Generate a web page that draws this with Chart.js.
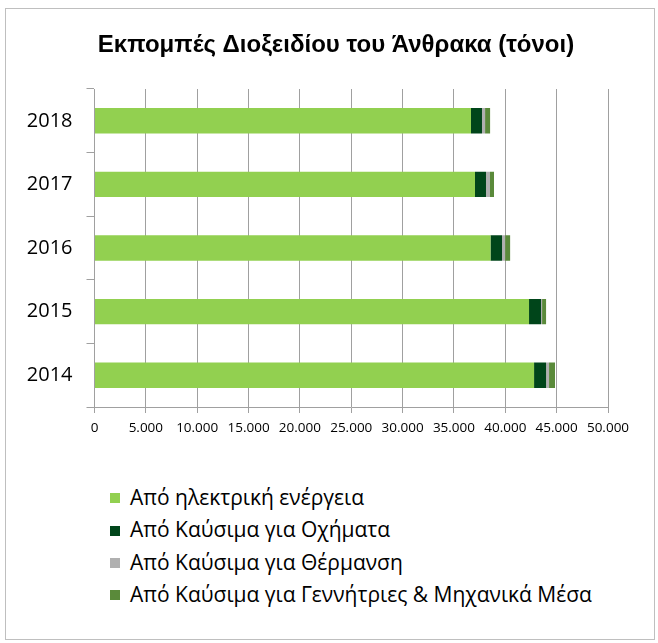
<!DOCTYPE html>
<html>
<head>
<meta charset="utf-8">
<script src="https://cdn.jsdelivr.net/npm/chart.js@4.4.0/dist/chart.umd.min.js"></script>
<style>
  body { margin: 0; background: #fff; }
  #frame { position: absolute; left: 5px; top: 8px; width: 650px; height: 632px; border: 1px solid #bfbfbf; box-sizing: border-box; }
  #wrap { position: absolute; left: 0; top: 0; width: 650px; height: 450px; }
  #legend { position: absolute; left: 104px; top: 472px; font-family: "Open Sans", sans-serif; font-size: 21px; color: #000; }
  .item { height: 32.3px; line-height: 32.3px; white-space: nowrap; }
  .box { display: inline-block; width: 10px; height: 10px; margin-right: 10px; vertical-align: middle; position: relative; top: -1px; }
</style>
</head>
<body>
<div id="frame">
  <div id="wrap"><canvas id="myChart"></canvas></div>
  <div id="legend"></div>
</div>
<script>
//DATA
const years = ["2014", "2015", "2016", "2017", "2018"];
const electricity = [42800, 42310, 38560, 37050, 36660];
const vehicles = [1170, 1170, 1120, 1070, 1070];
const heating = [290, 100, 300, 390, 300];
const generators = [580, 390, 490, 390, 490];

const seriesNames = [
    "Από ηλεκτρική ενέργεια",
    "Από Καύσιμα για Οχήματα",
    "Από Καύσιμα για Θέρμανση",
    "Από Καύσιμα για Γεννήτριες & Μηχανικά Μέσα"
];
const colors = ["#92d050", "#00451a", "#b0b0b0", "#5a8a3a"];
const xTicks = [0, 5000, 10000, 15000, 20000, 25000, 30000, 35000, 40000, 45000, 50000];

const allValues = [electricity, vehicles, heating, generators];

const data1 = {
    labels: years,
    datasets: allValues.map((vals, i) => ({
        label: seriesNames[i],
        data: vals,
        backgroundColor: colors[i],
        borderWidth: 0,
        barPercentage: 0.4,
        categoryPercentage: 1
    }))
};

const fmt = (v) => v === 0 ? "0" : v.toLocaleString("el-GR").replace(/\s/g, ".");

const config = {
    type: "bar",
    data: data1,
    options: {
        indexAxis: "y",
        responsive: true,
        maintainAspectRatio: false,
        animation: false,
        layout: { padding: { left: 10, right: 0, top: 0, bottom: 0 } },
        plugins: {
            legend: { display: false },
            tooltip: { enabled: false },
            title: {
                display: true,
                text: "Εκπομπές Διοξειδίου του Άνθρακα (τόνοι)",
                color: "#000",
                font: { family: "'Liberation Sans', Arial, sans-serif", size: 24, weight: "bold" },
                padding: { top: 22, bottom: 29.2 }
            }
        },
        scales: {
            x: {
                stacked: true,
                min: 0,
                max: 50000,
                afterBuildTicks: (s) => { s.ticks = xTicks.map(v => ({ value: v })); },
                afterFit: (s) => { s.height = 52; },
                grid: { color: "#a0a0a0", lineWidth: 1, tickLength: 6 },
                border: { color: "#a0a0a0" },
                ticks: {
                    autoSkip: false, maxRotation: 0, minRotation: 0, padding: 7,
                    color: "#000",
                    font: { family: "'Open Sans', sans-serif", size: 13.5 },
                    callback: (v) => fmt(v)
                }
            },
            y: {
                stacked: true,
                reverse: true,
                afterFit: (s) => { s.width = 78.5; },
                grid: { display: true, drawOnChartArea: false, offset: true, color: "#a0a0a0", tickLength: 8 },
                border: { color: "#a0a0a0" },
                ticks: {
                    padding: 14,
                    color: "#000",
                    font: { family: "'Open Sans', sans-serif", size: 20 }
                }
            },
            // empty right-hand spacer so the plot ends at 50.000 while the title stays centred
            spacer: {
                type: "linear",
                position: "right",
                afterFit: (s) => { s.width = 48; },
                grid: { display: false },
                border: { display: false },
                ticks: { display: false }
            }
        }
    }
};

var myChart = new Chart(document.querySelector("#myChart"), config);

//LEGEND
const legend = document.querySelector("#legend");
data1.datasets.forEach((ds) => {
    const row = document.createElement("div");
    row.className = "item";
    const box = document.createElement("span");
    box.className = "box";
    box.style.background = ds.backgroundColor;
    row.appendChild(box);
    row.appendChild(document.createTextNode(ds.label));
    legend.appendChild(row);
});
</script>
</body>
</html>
